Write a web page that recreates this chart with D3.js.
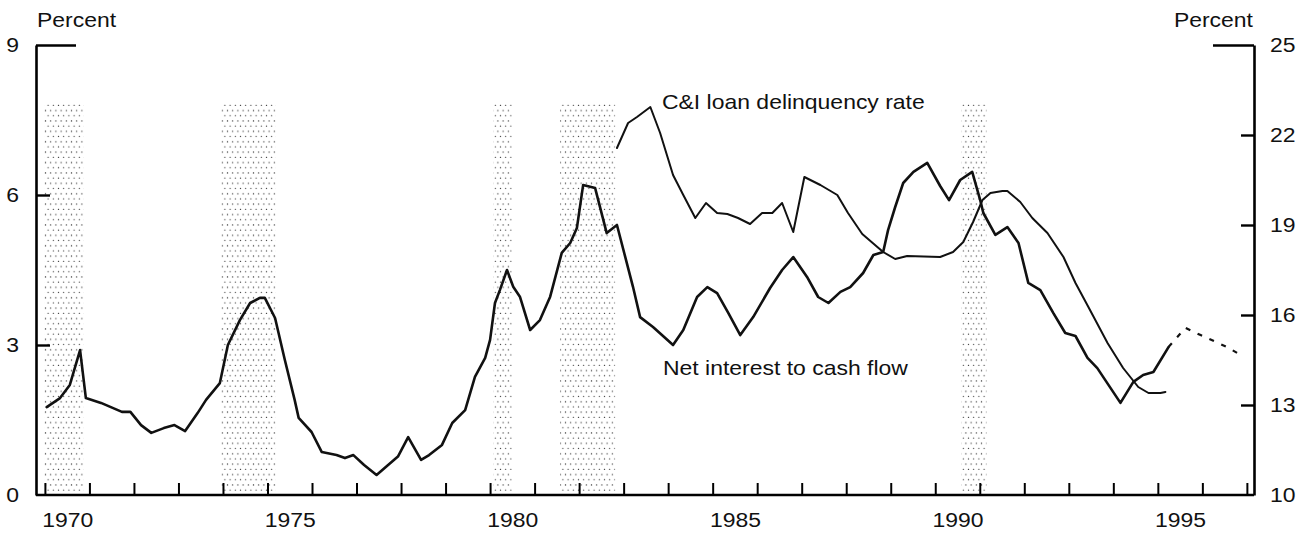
<!DOCTYPE html>
<html>
<head>
<meta charset="utf-8">
<script src="https://cdn.jsdelivr.net/npm/d3@7.9.0/dist/d3.min.js"></script>
<style>
  body { margin: 0; background: #fff; }
  svg text { font-family: "Liberation Sans", Arial, Helvetica, sans-serif; fill: #111; }
</style>
</head>
<body>
<svg id="chart" width="1315" height="533"></svg>
<script>
// Net interest to cash flow (right axis, percent)
const netYears = [1970.04,1970.34,1970.56,1970.79,1970.92,1971.26,1971.73,1971.92,1972.16,1972.39,1972.67,1972.91,1973.15,1973.43,1973.62,1973.93,1974.11,1974.38,1974.61,1974.83,1974.94,1975.17,1975.39,1975.61,1975.70,1975.99,1976.22,1976.55,1976.74,1976.93,1977.17,1977.45,1977.93,1978.16,1978.45,1978.63,1978.92,1979.15,1979.44,1979.66,1979.89,1980.00,1980.11,1980.22,1980.38,1980.52,1980.67,1980.90,1981.12,1981.35,1981.61,1981.80,1981.95,1982.09,1982.36,1982.62,1982.85,1983.21,1983.37,1983.66,1984.11,1984.34,1984.65,1984.88,1985.10,1985.35,1985.62,1985.91,1986.29,1986.56,1986.81,1987.12,1987.37,1987.60,1987.87,1988.09,1988.38,1988.61,1988.83,1988.94,1989.10,1989.28,1989.51,1989.82,1990.11,1990.31,1990.56,1990.83,1991.01,1991.08,1991.35,1991.62,1991.87,1992.09,1992.36,1992.65,1992.92,1993.15,1993.42,1993.64,1994.16,1994.45,1994.67,1994.90,1995.24];
const netValues = [12.93,13.23,13.67,14.83,13.23,13.07,12.77,12.77,12.33,12.07,12.23,12.33,12.13,12.73,13.17,13.73,15.0,15.83,16.40,16.57,16.57,15.90,14.5,13.17,12.57,12.10,11.43,11.33,11.23,11.33,11.0,10.67,11.28,11.93,11.17,11.33,11.67,12.40,12.83,13.94,14.57,15.17,16.40,16.83,17.50,16.94,16.61,15.50,15.83,16.61,18.07,18.40,18.90,20.33,20.23,18.73,19.00,16.94,15.93,15.60,15.00,15.50,16.60,16.93,16.73,16.07,15.33,15.93,16.90,17.50,17.93,17.27,16.60,16.40,16.77,16.93,17.40,18.00,18.10,18.83,19.60,20.40,20.77,21.07,20.30,19.83,20.50,20.77,19.83,19.40,18.67,18.93,18.40,17.07,16.83,16.07,15.40,15.30,14.57,14.23,13.07,13.77,14.00,14.10,14.93];

// projection (dashed)
const projYears = [1995.24,1995.62,1995.96,1996.56,1996.90];
const projValues = [14.93,15.57,15.33,14.93,14.63];

// C&I loan delinquency rate (left axis, percent)
const delYears = [1982.85,1983.10,1983.30,1983.60,1983.82,1984.11,1984.34,1984.61,1984.85,1985.10,1985.33,1985.57,1985.84,1986.11,1986.34,1986.56,1986.81,1987.06,1987.42,1987.80,1988.04,1988.36,1988.83,1989.10,1989.37,1990.11,1990.40,1990.63,1990.85,1991.06,1991.24,1991.51,1991.62,1991.91,1992.18,1992.52,1992.88,1993.15,1993.44,1993.87,1994.22,1994.56,1994.79,1995.06,1995.17];
const delValues = [6.94,7.44,7.56,7.76,7.24,6.40,6.00,5.54,5.84,5.64,5.62,5.54,5.42,5.64,5.64,5.84,5.26,6.36,6.20,6.00,5.64,5.22,4.86,4.72,4.78,4.76,4.86,5.06,5.46,5.90,6.04,6.08,6.08,5.86,5.54,5.24,4.76,4.24,3.76,3.04,2.54,2.16,2.04,2.04,2.06];

// recessions
const recStart = [1969.98, 1973.96, 1980.07, 1981.57, 1990.58];
const recEnd   = [1970.87, 1975.19, 1980.49, 1982.81, 1991.15];
const shadeTop = 7.82;

const leftTicks = [0, 3, 6, 9];
const rightTicks = [10, 13, 16, 19, 22, 25];
const yearTicks = d3.range(1970, 1998);
const yearLabels = [1970, 1975, 1980, 1985, 1990, 1995];

const svg = d3.select('#chart');
const FS = 20.5, SX = 1.12;

const x = d3.scaleLinear().domain([1969.8, 1997.16]).range([36, 1254]);
const yL = d3.scaleLinear().domain([0, 9]).range([495, 45]);
const yR = d3.scaleLinear().domain([10, 25]).range([495, 45]);

// stretch text horizontally a little, like the scanned lettering
function stretch(sel) {
  sel.each(function () {
    const t = d3.select(this);
    const x0 = +t.attr('x') || 0;
    t.attr('x', x0 / SX).attr('transform', `scale(${SX},1)`);
  });
}

// dotted shading pattern
const pat = svg.append('defs').append('pattern')
  .attr('id', 'dots').attr('patternUnits', 'userSpaceOnUse')
  .attr('width', 5.2).attr('height', 10.4);
pat.append('circle').attr('cx', 1.3).attr('cy', 1.3).attr('r', 0.65).attr('fill', '#222');
pat.append('circle').attr('cx', 3.9).attr('cy', 6.5).attr('r', 0.65).attr('fill', '#222');

svg.append('g').selectAll('rect')
  .data(recStart.map((s, i) => [s, recEnd[i]]))
  .join('rect')
  .attr('x', d => x(d[0]))
  .attr('width', d => x(d[1]) - x(d[0]))
  .attr('y', yL(shadeTop))
  .attr('height', yL(0) - yL(shadeTop))
  .attr('fill', 'url(#dots)');

// bottom axis: yearly ticks pointing up
const gx = svg.append('g').attr('transform', `translate(0,${yL(0)})`)
  .call(d3.axisBottom(x).tickValues(yearTicks).tickSize(-12).tickSizeOuter(0).tickFormat(''));
gx.select('.domain').attr('stroke-width', 2.6).attr('d', `M${x.range()[0]},0H${x.range()[1]}`);
gx.selectAll('.tick line').attr('stroke-width', 2);

// year labels centred in the year
const gxl = svg.append('g').attr('transform', `translate(0,${yL(0)})`)
  .call(d3.axisBottom(x).tickValues(yearLabels.map(d => d + 0.5)).tickSize(0).tickPadding(17)
    .tickFormat(d => Math.floor(d)));
gxl.select('.domain').remove();
gxl.selectAll('text').attr('font-size', FS).attr('font-family', null).call(stretch);

// left axis
const gl = svg.append('g').attr('transform', `translate(${x.range()[0]},0)`)
  .call(d3.axisLeft(yL).tickValues(leftTicks).tickSize(-14).tickSizeOuter(0).tickPadding(17));
gl.select('.domain').attr('stroke-width', 2.6);
gl.selectAll('.tick line').attr('stroke-width', 2.4).attr('x2', d => d === 9 ? 40 : (d === 0 ? 0 : 14));
gl.selectAll('text').attr('font-size', FS).attr('font-family', null).call(stretch);

// right axis
const gr = svg.append('g').attr('transform', `translate(${x.range()[1]},0)`)
  .call(d3.axisRight(yR).tickValues(rightTicks).tickSize(-13).tickSizeOuter(0).tickPadding(16));
gr.select('.domain').attr('stroke-width', 2.6);
gr.selectAll('.tick line').attr('stroke-width', 2.4).attr('x2', d => d === 25 ? -41 : (d === 10 ? 0 : -13));
gr.selectAll('text').attr('font-size', FS).attr('font-family', null).call(stretch);

// "Percent" headers
svg.append('text').attr('x', 37).attr('y', 27).attr('font-size', FS).text('Percent').call(stretch);
svg.append('text').attr('x', 1253).attr('y', 27).attr('font-size', FS)
  .attr('text-anchor', 'end').text('Percent').call(stretch);

// lines
const lineR = d3.line().x(d => x(d[0])).y(d => yR(d[1]));
const lineL = d3.line().x(d => x(d[0])).y(d => yL(d[1]));

svg.append('path')
  .datum(netYears.map((d, i) => [d, netValues[i]]))
  .attr('d', lineR)
  .attr('fill', 'none').attr('stroke', '#111').attr('stroke-width', 2.6)
  .attr('stroke-linejoin', 'round').attr('stroke-linecap', 'round');

svg.append('path')
  .datum(projYears.map((d, i) => [d, projValues[i]]))
  .attr('d', lineR)
  .attr('fill', 'none').attr('stroke', '#111').attr('stroke-width', 2.2)
  .attr('stroke-dasharray', '5,8');

svg.append('path')
  .datum(delYears.map((d, i) => [d, delValues[i]]))
  .attr('d', lineL)
  .attr('fill', 'none').attr('stroke', '#111').attr('stroke-width', 2)
  .attr('stroke-linejoin', 'round').attr('stroke-linecap', 'round');

// series labels
svg.append('text').attr('x', 662).attr('y', 109).attr('font-size', FS)
  .text('C&I loan delinquency rate').call(stretch);
svg.append('text').attr('x', 663).attr('y', 375).attr('font-size', FS)
  .text('Net interest to cash flow').call(stretch);
</script>
</body>
</html>
